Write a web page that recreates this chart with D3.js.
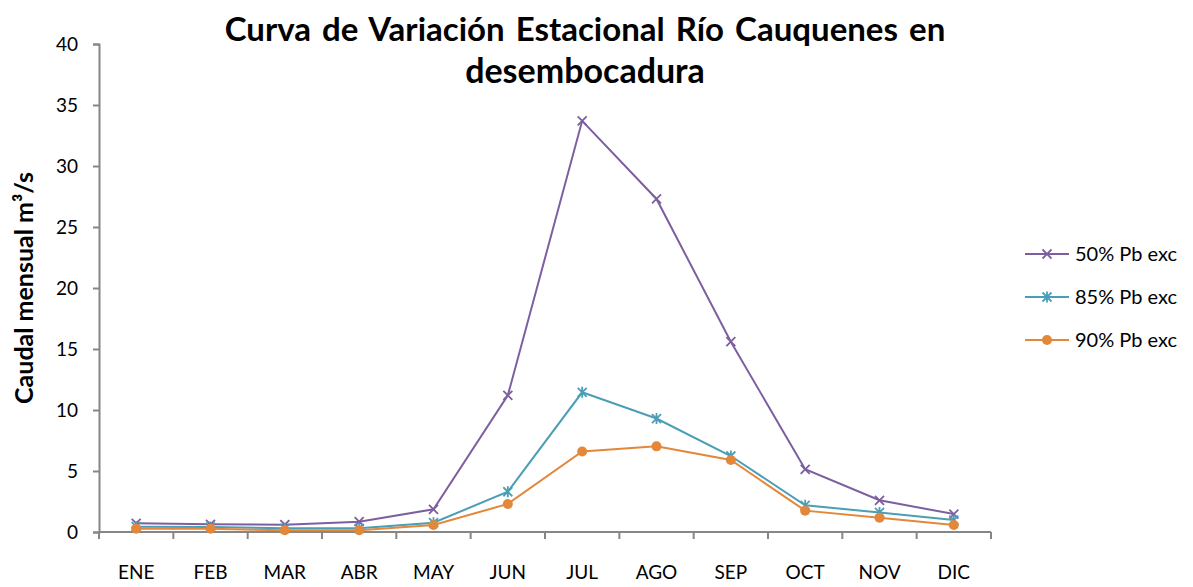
<!DOCTYPE html>
<html lang="es">
<head>
<meta charset="utf-8">
<script src="https://d3js.org/d3.v7.min.js"></script>
<style>
  body { margin: 0; background: #fff; }
  text { font-family: Lato, "Open Sans", sans-serif; fill: #000; }
</style>
</head>
<body>
<div id="chart"></div>
<script>
const months = ["ENE","FEB","MAR","ABR","MAY","JUN","JUL","AGO","SEP","OCT","NOV","DIC"];
const pb50 = [0.71, 0.63, 0.6, 0.85, 1.86, 11.2, 33.7, 27.3, 15.6, 5.14, 2.6, 1.47];
const pb85 = [0.44, 0.4, 0.3, 0.3, 0.76, 3.3, 11.45, 9.3, 6.23, 2.19, 1.6, 0.98];
const pb90 = [0.27, 0.27, 0.14, 0.14, 0.57, 2.3, 6.6, 7.02, 5.9, 1.75, 1.17, 0.57];
const seriesNames = ["50% Pb exc", "85% Pb exc", "90% Pb exc"];
const yTicks = [0, 5, 10, 15, 20, 25, 30, 35, 40];

const series = [
  {name: seriesNames[0], values: pb50, color: "#7D5FA0", marker: "x"},
  {name: seriesNames[1], values: pb85, color: "#4A9EB6", marker: "star"},
  {name: seriesNames[2], values: pb90, color: "#E3873B", marker: "circle"}
];

const W = 1193, H = 587;
const margin = {left: 99, right: 202, top: 44, bottom: 55};

const svg = d3.select("#chart").append("svg")
  .attr("width", W).attr("height", H);

const x = d3.scaleBand().domain(months).range([margin.left, W - margin.right]);
const y = d3.scaleLinear().domain([0, 40]).range([H - margin.bottom, margin.top]);
const cx = d => x(d) + x.bandwidth() / 2;

// y axis
const yAxis = svg.append("g")
  .attr("transform", `translate(${margin.left},0)`)
  .call(d3.axisLeft(y).tickValues(yTicks).tickSize(6).tickPadding(15));
yAxis.selectAll("text").style("font-size", "19px").style("font-family", "Lato, sans-serif");
yAxis.select(".domain").attr("stroke", "#868686").attr("stroke-width", 2);
yAxis.selectAll(".tick line").attr("stroke", "#868686").attr("stroke-width", 2);

// x axis: ticks at band boundaries
const xAxis = svg.append("g").attr("transform", `translate(0,${y(0)})`);
xAxis.append("line")
  .attr("x1", margin.left).attr("x2", W - margin.right)
  .attr("stroke", "#868686").attr("stroke-width", 2);
const bounds = months.map(m => x(m)).concat([x(months[months.length - 1]) + x.bandwidth()]);
xAxis.selectAll("line.tick").data(bounds).enter().append("line")
  .attr("class", "tick")
  .attr("x1", d => d).attr("x2", d => d)
  .attr("y1", 0).attr("y2", 7)
  .attr("stroke", "#868686").attr("stroke-width", 2);
xAxis.selectAll("text").data(months).enter().append("text")
  .attr("x", d => cx(d)).attr("y", 47)
  .attr("text-anchor", "middle")
  .style("font-size", "19px")
  .text(d => d);

// markers
function drawMarker(g, type, color) {
  if (type === "circle") {
    g.append("circle").attr("r", 5).attr("fill", color);
  } else {
    const s = 4.5;
    g.append("path")
      .attr("d", `M${-s},${-s}L${s},${s}M${-s},${s}L${s},${-s}` + (type === "star" ? `M0,${-s - 1}L0,${s + 1}` : ""))
      .attr("stroke", color).attr("stroke-width", 1.8).attr("fill", "none");
  }
}

const line = d3.line().x((d, i) => cx(months[i])).y(d => y(d));

series.forEach(s => {
  svg.append("path")
    .datum(s.values)
    .attr("fill", "none")
    .attr("stroke", s.color)
    .attr("stroke-width", 2)
    .attr("d", line);
  s.values.forEach((v, i) => {
    const g = svg.append("g").attr("transform", `translate(${cx(months[i])},${y(v)})`);
    drawMarker(g, s.marker, s.color);
  });
});

// title
svg.append("text")
  .attr("x", 585).attr("y", 41)
  .attr("text-anchor", "middle")
  .style("font-size", "33px").style("font-weight", "bold")
  .style("word-spacing", "3px")
  .text("Curva de Variación Estacional Río Cauquenes en");
svg.append("text")
  .attr("x", 585).attr("y", 83)
  .attr("text-anchor", "middle")
  .style("font-size", "34px").style("font-weight", "bold")
  .text("desembocadura");

// y label
svg.append("text")
  .attr("transform", `translate(33,288) rotate(-90)`)
  .attr("text-anchor", "middle")
  .style("font-size", "25px").style("font-weight", "bold")
  .text("Caudal mensual m³/s");

// legend
const legend = svg.append("g");
series.forEach((s, i) => {
  const ly = 254 + i * 43;
  legend.append("line")
    .attr("x1", 1025).attr("x2", 1069).attr("y1", ly).attr("y2", ly)
    .attr("stroke", s.color).attr("stroke-width", 2);
  const g = legend.append("g").attr("transform", `translate(1047,${ly})`);
  drawMarker(g, s.marker, s.color);
  legend.append("text")
    .attr("x", 1075).attr("y", ly + 7)
    .style("font-size", "20px")
    .text(s.name);
});
</script>
</body>
</html>
